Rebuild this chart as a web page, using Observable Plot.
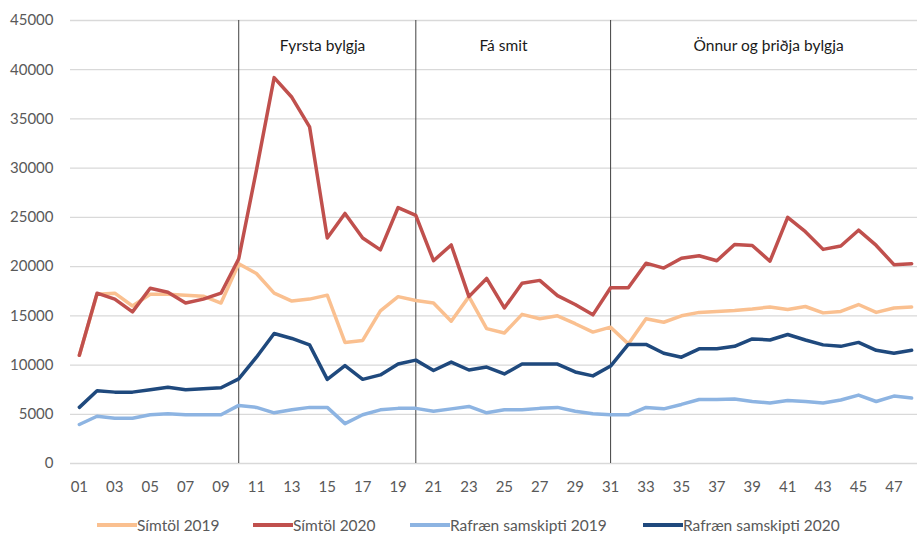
<!DOCTYPE html>
<html>
<head>
<meta charset="utf-8">
<script src="https://cdn.jsdelivr.net/npm/d3@7"></script>
<script src="https://cdn.jsdelivr.net/npm/@observablehq/plot@0.6"></script>
<style>
  html, body { margin: 0; padding: 0; background: #fff; }
  #chart { width: 917px; height: 534px; position: relative; font-family: Lato, "Open Sans", sans-serif; }
  #legend { position: relative; height: 34px; font-size: 15.5px; line-height: 16px; color: #595959; }
  .item { position: absolute; top: 17px; display: flex; align-items: center; white-space: nowrap; }
  .sw { width: 40px; height: 4px; display: inline-block; }
</style>
</head>
<body>
<div id="chart"></div>
<script>
const weeks = [1,2,3,4,5,6,7,8,9,10,11,12,13,14,15,16,17,18,19,20,21,22,23,24,25,26,27,28,29,30,31,32,33,34,35,36,37,38,39,40,41,42,43,44,45,46,47,48];
const seriesNames = ["Símtöl 2019", "Símtöl 2020", "Rafræn samskipti 2019", "Rafræn samskipti 2020"];
const seriesColors = ["#FAC090", "#C0504D", "#8DB4E2", "#1F497D"];

const simtol2019 = [11000,17200,17300,16000,17200,17200,17100,17000,16300,20300,
  19300,17300,16500,16700,17100,12300,12500,15500,16950,16550,
  16300,14450,16950,13700,13250,15150,14700,15000,14200,13350,
  13850,12150,14700,14350,15000,15350,15450,15550,15700,15900,
  15650,15950,15300,15450,16150,15350,15800,15900];
const simtol2020 = [11000,17300,16700,15400,17800,17400,16300,16700,17300,20800,
  29800,39200,37200,34200,22900,25400,22900,21700,26000,25200,
  20600,22200,16950,18800,15800,18300,18600,17050,16150,15100,
  17850,17850,20350,19850,20850,21100,20600,22250,22150,20550,
  25000,23550,21750,22100,23700,22150,20200,20300];
const rafraen2019 = [3960,4800,4600,4600,4950,5050,4950,4950,4950,5900,
  5700,5150,5450,5700,5700,4050,4950,5450,5600,5600,
  5300,5550,5800,5150,5450,5450,5600,5700,5300,5050,
  4950,4950,5700,5550,6000,6500,6500,6550,6300,6150,
  6400,6300,6150,6450,6950,6300,6850,6650];
const rafraen2020 = [5700,7400,7250,7250,7500,7750,7500,7600,7700,8600,
  10800,13200,12700,12050,8550,9950,8550,9000,10100,10500,
  9450,10300,9500,9800,9100,10100,10100,10100,9300,8900,
  9900,12100,12100,11200,10800,11650,11650,11900,12650,12550,
  13100,12550,12050,11900,12300,11500,11200,11500];

const xTicks = [1,3,5,7,9,11,13,15,17,19,21,23,25,27,29,31,33,35,37,39,41,43,45,47];
const yTicks = [0,5000,10000,15000,20000,25000,30000,35000,40000,45000];
const phaseBreaks = [10, 20, 31];
const phaseLabels = ["Fyrsta bylgja", "Fá smit", "Önnur og þriðja bylgja"];
const phaseLabelX = [14.73, 24.95, 39.92];
const phaseLabelY = 42400;
const legendLeft = [97, 253, 410, 643];

const allSeries = [simtol2019, simtol2020, rafraen2019, rafraen2020];
const rows = [];
allSeries.forEach((vals, i) => vals.forEach((v, j) => rows.push({week: weeks[j], value: v, series: seriesNames[i]})));
const labelRows = phaseLabels.map((t, i) => ({text: t, x: phaseLabelX[i], y: phaseLabelY}));

const plot = Plot.plot({
  width: 917,
  height: 500,
  marginLeft: 70,
  marginRight: 0,
  marginTop: 20,
  marginBottom: 37,
  style: {fontFamily: "Lato, 'Open Sans', sans-serif", fontSize: "15px", background: "#fff"},
  x: {type: "linear", domain: [0.5, 48.5], range: [70, 920], ticks: xTicks, tickFormat: d => String(d).padStart(2, "0"), tickSize: 0, tickPadding: 18, label: null},
  y: {domain: [0, 45000], ticks: yTicks, tickFormat: d => String(d), tickSize: 0, tickPadding: 17, label: null},
  color: {domain: seriesNames, range: seriesColors},
  marks: [
    Plot.ruleY(yTicks, {stroke: "#d9d9d9", strokeWidth: 1.3}),
    Plot.ruleX(phaseBreaks, {y1: 0, y2: 45000, stroke: "#404040", strokeWidth: 1}),
    Plot.axisX({ticks: xTicks, tickFormat: d => String(d).padStart(2, "0"), tickSize: 0, tickPadding: 18, fill: "#595959", fontSize: 15, label: null}),
    Plot.axisY({ticks: yTicks, tickFormat: d => String(d), tickSize: 0, tickPadding: 17, fill: "#595959", fontSize: 15, label: null}),
    Plot.line(rows, {x: "week", y: "value", z: "series", stroke: "series", strokeWidth: 3.5, strokeLinejoin: "round", strokeLinecap: "round"}),
    Plot.text(labelRows, {x: "x", y: "y", text: "text", fill: "#1a1a1a", fontSize: 15.5, textAnchor: "middle"})
  ]
});
document.getElementById("chart").appendChild(plot);

const legend = document.createElement("div");
legend.id = "legend";
seriesNames.forEach((n, i) => {
  const it = document.createElement("div");
  it.className = "item";
  it.style.left = legendLeft[i] + "px";
  const sw = document.createElement("span");
  sw.className = "sw";
  sw.style.background = seriesColors[i];
  const tx = document.createElement("span");
  tx.textContent = n;
  it.appendChild(sw);
  it.appendChild(tx);
  legend.appendChild(it);
});
document.getElementById("chart").appendChild(legend);
</script>
</body>
</html>
